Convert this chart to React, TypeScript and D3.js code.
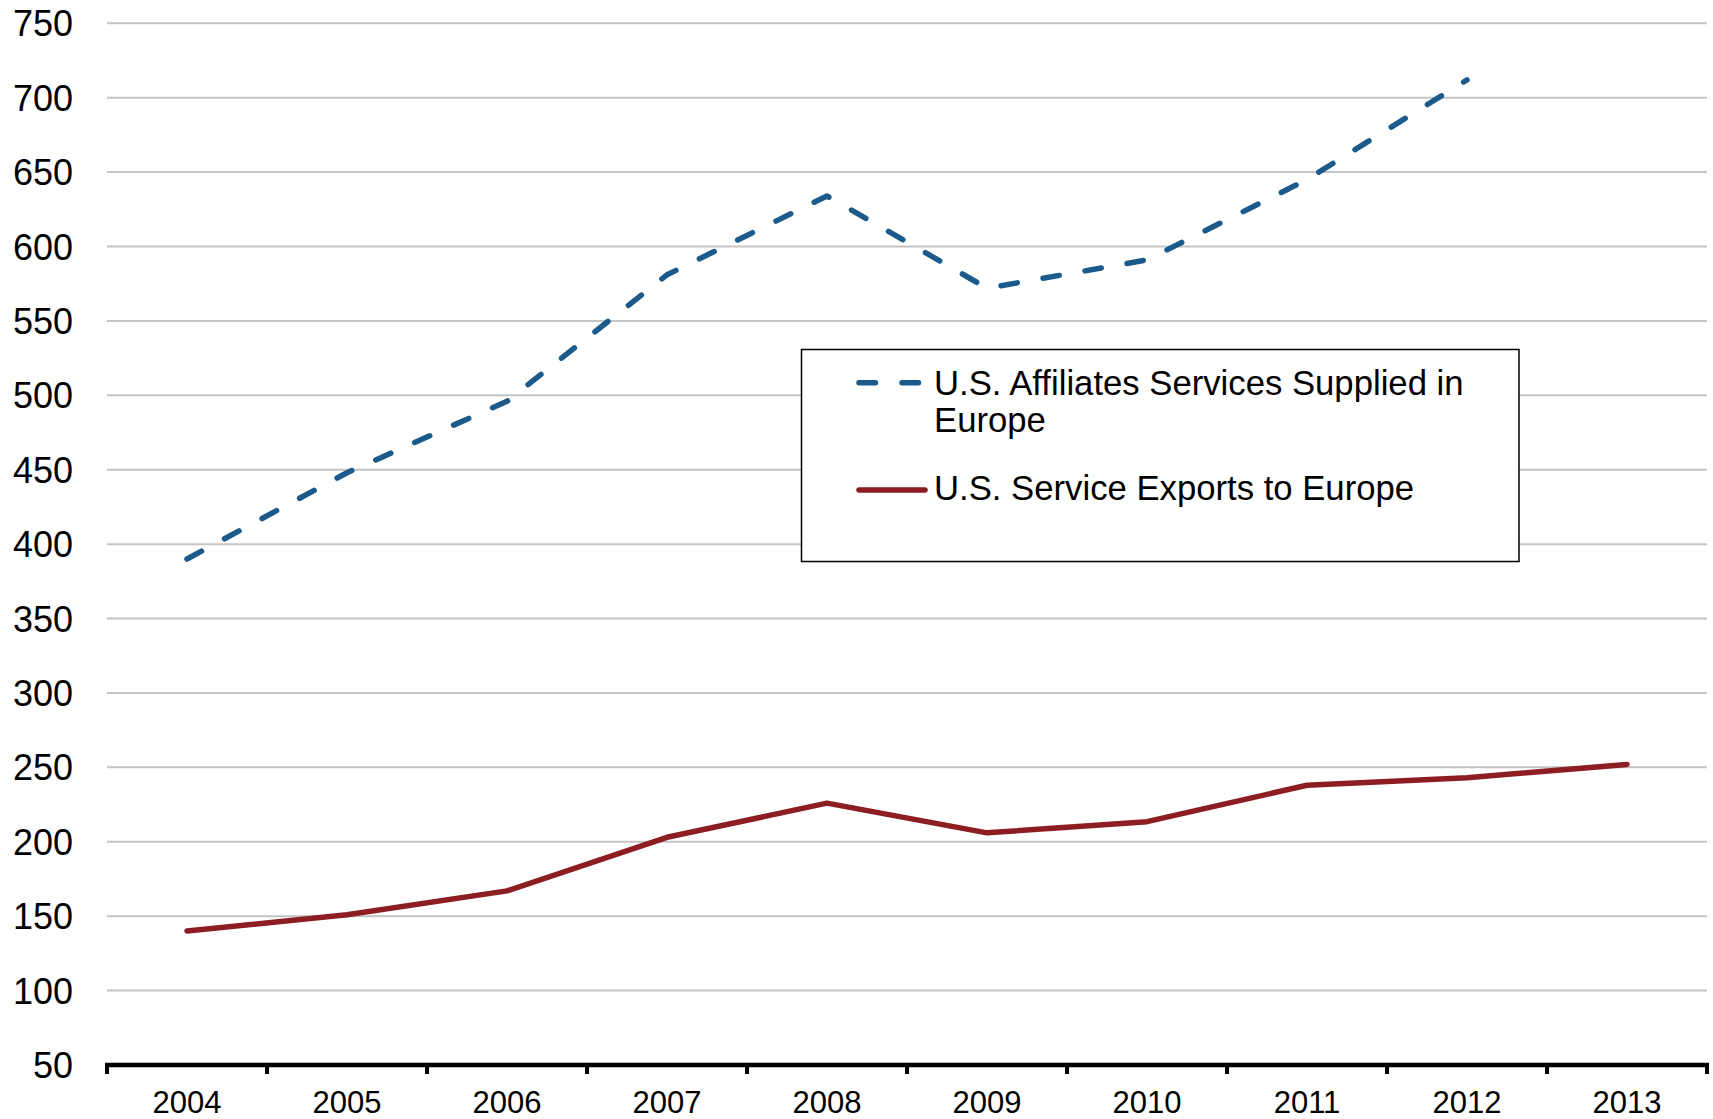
import React from "react";
import * as d3 from "d3";

const years = ["2004", "2005", "2006", "2007", "2008", "2009", "2010", "2011", "2012", "2013"];
const affiliates: (number | null)[] = [390, 448, 496, 581, 634, 572, 591, 645, 712, null];
const exportsEU: number[] = [140, 151, 167, 203, 226, 206, 213.5, 238, 243, 252];
const yTicks = [50, 100, 150, 200, 250, 300, 350, 400, 450, 500, 550, 600, 650, 700, 750];
const seriesNames = ["U.S. Affiliates Services Supplied in", "Europe", "U.S. Service Exports to Europe"];

const W = 1713;
const H = 1119;
const BLUE = "#1b5a8a";
const RED = "#8c1d23";
const FONT = "'Liberation Sans', Arial, Helvetica, sans-serif";

export default function App() {
  const x = d3.scaleBand<string>().domain(years).range([107, 1707]).padding(0);
  const y = d3.scaleLinear().domain([50, 750]).range([1065, 23.3]);
  const cx = (i: number) => (x(years[i]) as number) + x.bandwidth() / 2;

  const line = d3
    .line<number | null>()
    .defined((d) => d !== null)
    .x((_, i) => cx(i))
    .y((d) => y(d as number));

  // total length of the dashed path, so the dash pattern ends on a short dash like the reference
  const pts = affiliates
    .map((v, i) => (v === null ? null : [cx(i), y(v)]))
    .filter((p) => p !== null) as number[][];
  let L = 0;
  for (let i = 1; i < pts.length; i++) {
    L += Math.hypot(pts[i][0] - pts[i - 1][0], pts[i][1] - pts[i - 1][1]);
  }
  const dashLen = 16.5;
  const n = Math.round((L - 4) / 43);
  const period = (L - 4) / n;
  const dashArr = `${dashLen} ${period - dashLen}`;

  const tickXs = years.map((yr) => x(yr) as number).concat([1707]);

  return (
    <svg
      width={W}
      height={H}
      style={{ position: "absolute", left: 0, top: 0, background: "#fff" }}
      fontFamily={FONT}
    >
      <rect x={0} y={0} width={W} height={H} fill="#fff" />
      {yTicks.map((t) => (
        <g key={t}>
          {t !== 50 && (
            <line x1={107} x2={1707} y1={y(t)} y2={y(t)} stroke="#c4c4c4" strokeWidth={2} />
          )}
          <text x={73} y={y(t)} dy={13} textAnchor="end" fontSize={36} fill="#000">
            {t}
          </text>
        </g>
      ))}
      <path d={line(affiliates) || ""} fill="none" stroke={BLUE} strokeWidth={5.5}
        strokeDasharray={dashArr} strokeLinecap="round" strokeLinejoin="round" />
      <path d={line(exportsEU) || ""} fill="none" stroke={RED} strokeWidth={5.5}
        strokeLinecap="round" strokeLinejoin="round" />
      <line x1={105} x2={1709} y1={y(50)} y2={y(50)} stroke="#000" strokeWidth={4.5} />
      {tickXs.map((tx, i) => (
        <line key={i} x1={tx} x2={tx} y1={y(50)} y2={y(50) + 9} stroke="#000" strokeWidth={4} />
      ))}
      {years.map((yr, i) => (
        <text key={yr} x={cx(i)} y={1113} textAnchor="middle" fontSize={31} fill="#000">
          {yr}
        </text>
      ))}
      <g>
        <rect x={801.5} y={349.5} width={717.5} height={212} fill="#fff" stroke="#000" strokeWidth={1.5} />
        <line x1={859} x2={920} y1={382.7} y2={382.7} stroke={BLUE} strokeWidth={5.5}
          strokeDasharray="16.5 26.5" strokeLinecap="round" />
        <line x1={859} x2={925} y1={490} y2={490} stroke={RED} strokeWidth={5.5} strokeLinecap="round" />
        <text x={934} y={395} fontSize={34.7} fill="#000">{seriesNames[0]}</text>
        <text x={934} y={432} fontSize={34.7} fill="#000">{seriesNames[1]}</text>
        <text x={934} y={500} fontSize={34.7} fill="#000">{seriesNames[2]}</text>
      </g>
    </svg>
  );
}
